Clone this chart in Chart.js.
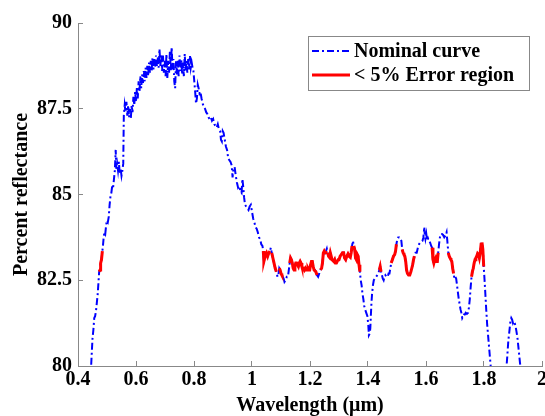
<!DOCTYPE html>
<html>
<head>
<meta charset="utf-8">
<script src="https://cdn.jsdelivr.net/npm/chart.js@4.4.1/dist/chart.umd.min.js"></script>
<style>
    body { margin: 0; background: #fff; }
    #wrap { width: 545px; height: 416px; position: relative; }
</style>
</head>
<body>
<div id="wrap"><canvas id="chart-reflectance"></canvas></div>
<script>
const wavelength = [
    0.443, 0.447, 0.450, 0.453, 0.456, 0.459, 0.462, 0.465, 0.468, 0.471, 0.473, 0.476, 0.478, 0.481, 0.484, 0.486, 0.488, 0.491, 0.494, 0.497,
    0.500, 0.503, 0.506, 0.509, 0.512, 0.515, 0.518, 0.521, 0.524, 0.527, 0.530, 0.532, 0.535, 0.538, 0.541, 0.544, 0.547, 0.550, 0.553, 0.556,
    0.558, 0.561, 0.564, 0.567, 0.570, 0.573, 0.576, 0.579, 0.582, 0.585, 0.588, 0.591, 0.594, 0.597, 0.600, 0.603, 0.606, 0.609, 0.612, 0.615,
    0.618, 0.621, 0.624, 0.627, 0.630, 0.633, 0.636, 0.639, 0.642, 0.645, 0.648, 0.651, 0.654, 0.657, 0.660, 0.663, 0.666, 0.669, 0.672, 0.675,
    0.678, 0.681, 0.684, 0.687, 0.690, 0.693, 0.696, 0.699, 0.702, 0.705, 0.708, 0.711, 0.714, 0.717, 0.720, 0.723, 0.726, 0.729, 0.732, 0.735,
    0.738, 0.741, 0.744, 0.747, 0.750, 0.753, 0.756, 0.759, 0.762, 0.765, 0.768, 0.771, 0.774, 0.777, 0.780, 0.783, 0.786, 0.789, 0.792, 0.795,
    0.798, 0.801, 0.804, 0.807, 0.810, 0.813, 0.816, 0.819, 0.822, 0.826, 0.830, 0.834, 0.838, 0.842, 0.846, 0.850, 0.854, 0.858, 0.862, 0.866,
    0.870, 0.874, 0.878, 0.882, 0.886, 0.890, 0.893, 0.896, 0.899, 0.902, 0.906, 0.910, 0.914, 0.918, 0.922, 0.926, 0.930, 0.933, 0.936, 0.940,
    0.944, 0.948, 0.952, 0.956, 0.960, 0.964, 0.967, 0.970, 0.973, 0.976, 0.980, 0.984, 0.988, 0.992, 0.996, 1.000, 1.004, 1.008, 1.012, 1.016,
    1.020, 1.024, 1.028, 1.032, 1.036, 1.039, 1.041, 1.044, 1.047, 1.050, 1.054, 1.058, 1.062, 1.065, 1.068, 1.072, 1.076, 1.080, 1.084, 1.088,
    1.091, 1.094, 1.097, 1.100, 1.103, 1.106, 1.109, 1.112, 1.116, 1.120, 1.124, 1.127, 1.130, 1.133, 1.136, 1.139, 1.142, 1.145, 1.148, 1.151,
    1.154, 1.157, 1.160, 1.163, 1.166, 1.169, 1.172, 1.175, 1.178, 1.181, 1.184, 1.187, 1.190, 1.193, 1.196, 1.199, 1.202, 1.205, 1.208, 1.211,
    1.214, 1.217, 1.220, 1.224, 1.228, 1.232, 1.236, 1.240, 1.243, 1.246, 1.249, 1.252, 1.255, 1.258, 1.261, 1.264, 1.267, 1.270, 1.273, 1.276,
    1.279, 1.282, 1.285, 1.288, 1.291, 1.294, 1.297, 1.300, 1.304, 1.308, 1.312, 1.316, 1.319, 1.323, 1.327, 1.331, 1.335, 1.339, 1.342, 1.345,
    1.348, 1.351, 1.354, 1.357, 1.360, 1.363, 1.366, 1.369, 1.372, 1.375, 1.378, 1.381, 1.384, 1.387, 1.390, 1.394, 1.398, 1.401, 1.403, 1.406,
    1.408, 1.410, 1.412, 1.414, 1.417, 1.420, 1.424, 1.428, 1.432, 1.436, 1.439, 1.442, 1.445, 1.448, 1.451, 1.454, 1.457, 1.460, 1.464, 1.468,
    1.471, 1.474, 1.477, 1.480, 1.484, 1.488, 1.492, 1.495, 1.498, 1.501, 1.504, 1.508, 1.512, 1.515, 1.518, 1.521, 1.524, 1.527, 1.530, 1.533,
    1.536, 1.540, 1.544, 1.548, 1.551, 1.554, 1.557, 1.560, 1.564, 1.568, 1.572, 1.576, 1.580, 1.584, 1.588, 1.591, 1.594, 1.596, 1.598, 1.601,
    1.604, 1.607, 1.610, 1.614, 1.618, 1.621, 1.624, 1.627, 1.630, 1.633, 1.636, 1.639, 1.642, 1.645, 1.648, 1.651, 1.655, 1.659, 1.663, 1.667,
    1.671, 1.674, 1.677, 1.680, 1.683, 1.686, 1.689, 1.692, 1.695, 1.698, 1.701, 1.704, 1.707, 1.710, 1.713, 1.716, 1.719, 1.722, 1.725, 1.728,
    1.731, 1.734, 1.737, 1.741, 1.745, 1.748, 1.751, 1.754, 1.757, 1.760, 1.763, 1.766, 1.769, 1.772, 1.775, 1.778, 1.781, 1.784, 1.787, 1.790,
    1.793, 1.796, 1.799, 1.802, 1.805, 1.808, 1.811, 1.814, 1.817, 1.820, 1.823, 1.830, 1.845, 1.865, 1.876, 1.880, 1.884, 1.888, 1.891, 1.894,
    1.897, 1.900, 1.903, 1.906, 1.909, 1.912, 1.915, 1.918, 1.921, 1.924, 1.927, 1.932
];
const reflectance = [
    79.6, 80.3, 80.8, 81.05, 81.4, 81.45, 81.6, 81.85, 82.1, 82.5, 82.75, 82.8, 83.0, 83.1, 83.35, 83.5, 83.7, 83.9, 83.85, 84.1,
    84.25, 84.2, 84.35, 84.7, 84.95, 85.05, 85.25, 85.2, 85.45, 85.7, 86.3, 85.75, 85.9, 85.7, 85.95, 85.6, 85.75, 85.55, 85.7, 85.9,
    87.3, 87.6, 87.4, 87.7, 87.3, 87.6, 87.25, 87.5, 87.2, 87.6, 87.4, 87.85, 87.6, 88.0, 87.7, 88.1, 87.8, 88.3, 88.0, 88.45,
    88.1, 88.5, 88.25, 88.6, 88.3, 88.7, 88.4, 88.75, 88.45, 88.85, 88.55, 88.9, 88.6, 89.0, 88.65, 88.95, 88.7, 89.05, 88.75, 89.0,
    88.7, 89.25, 88.75, 89.1, 88.6, 89.05, 88.55, 88.9, 88.45, 89.1, 88.4, 88.9, 88.55, 89.2, 88.6, 89.3, 88.65, 88.95, 88.3, 88.1,
    88.9, 88.5, 88.9, 88.45, 89.05, 88.6, 88.95, 88.5, 88.85, 88.45, 89.1, 88.6, 88.9, 88.55, 88.95, 88.65, 89.05, 88.7, 88.85, 88.7,
    88.6, 88.3, 88.0, 87.65, 87.8, 88.2, 88.1, 87.95, 88.0, 87.8, 87.65, 87.55, 87.5, 87.4, 87.35, 87.25, 87.2, 87.25, 87.15, 87.2,
    87.05, 87.0, 86.95, 87.05, 86.9, 86.85, 86.6, 86.55, 86.85, 86.8, 86.6, 86.4, 86.3, 86.05, 86.0, 85.95, 85.85, 85.5, 85.75, 85.8,
    85.55, 85.35, 85.2, 85.25, 85.1, 85.05, 85.45, 85.2, 84.9, 84.7, 84.65, 84.6, 84.55, 84.65, 84.7, 84.5, 84.3, 84.2, 84.05, 84.0,
    83.9, 83.75, 83.7, 83.55, 83.5, 83.35, 83.05, 83.15, 83.25, 83.3, 83.2, 83.3, 83.35, 83.45, 83.3, 83.15, 83.0, 82.85, 82.75, 82.6,
    82.65, 82.85, 82.8, 82.7, 82.65, 82.6, 82.55, 82.45, 82.5, 82.6, 82.6, 82.8, 83.0, 83.15, 83.1, 83.0, 82.85, 82.8, 82.9, 83.0,
    83.0, 82.95, 82.9, 83.0, 83.05, 83.0, 82.9, 82.85, 82.85, 82.8, 82.85, 82.8, 82.8, 82.85, 82.8, 82.8, 82.95, 83.05, 83.05, 82.9,
    82.8, 82.8, 82.75, 82.65, 82.6, 82.7, 82.8, 82.85, 83.0, 83.3, 83.35, 83.3, 83.35, 83.42, 83.3, 83.2, 83.17, 83.3, 83.2, 83.1,
    83.1, 83.05, 83.1, 83.0, 83.0, 83.05, 83.1, 83.1, 83.2, 83.25, 83.3, 83.3, 83.15, 83.1, 83.2, 83.27, 83.2, 83.17, 83.3, 83.5,
    83.65, 83.5, 83.4, 83.15, 83.1, 83.25, 83.2, 82.95, 82.75, 82.5, 82.35, 82.1, 81.95, 81.75, 81.65, 81.55, 81.45, 81.2, 80.9, 80.95,
    81.1, 81.5, 81.85, 82.1, 82.35, 82.5, 82.55, 82.6, 82.65, 82.7, 82.8, 82.9, 82.75, 82.65, 82.55, 82.5, 82.6, 82.65, 82.6, 82.6,
    82.7, 82.7, 82.85, 83.0, 83.1, 83.2, 83.25, 83.35, 83.55, 83.7, 83.75, 83.75, 83.72, 83.65, 83.4, 83.3, 83.25, 83.2, 83.05, 82.8,
    82.7, 82.65, 82.65, 82.75, 82.85, 82.95, 83.1, 83.2, 83.3, 83.3, 83.45, 83.55, 83.6, 83.62, 83.65, 83.75, 84.05, 83.8, 83.7, 83.85,
    83.65, 83.72, 83.65, 83.6, 83.5, 83.45, 83.1, 83.0, 83.1, 83.15, 83.05, 83.05, 83.3, 83.55, 83.75, 83.85, 83.85, 83.82, 83.75, 83.8,
    83.9, 83.6, 83.3, 83.2, 83.15, 83.1, 83.05, 82.85, 82.7, 82.55, 82.6, 82.55, 82.35, 82.15, 81.95, 81.8, 81.65, 81.55, 81.4, 81.45,
    81.5, 81.5, 81.55, 81.52, 81.55, 81.7, 81.95, 82.3, 82.6, 82.75, 82.85, 83.0, 83.1, 83.15, 83.2, 83.28, 83.25, 83.15, 83.3, 83.55,
    83.6, 83.4, 82.9, 82.5, 82.05, 81.6, 81.2, 80.9, 80.6, 80.3, 80.0, 79.5, 79.0, 79.3, 79.8, 80.25, 80.75, 81.05, 81.3, 81.4,
    81.35, 81.25, 81.3, 81.25, 81.15, 81.0, 80.85, 80.6, 80.35, 80.1, 79.9, 79.5
];
// wavelength spans (um) drawn as the < 5% error region
const errorRanges = [
    [0.473, 0.484], [1.039, 1.062], [1.066, 1.087], [1.093, 1.108], [1.128, 1.225], [1.233, 1.256], [1.261, 1.346],
    [1.351, 1.372], [1.437, 1.445], [1.480, 1.498], [1.518, 1.560], [1.621, 1.642], [1.677, 1.695], [1.757, 1.800]
];
const seriesLabels = ['Nominal curve', '< 5% Error region'];
const xTicks = { min: 0.4, max: 2, step: 0.2 };
const yTicks = { min: 80, max: 90, step: 2.5 };

const serif = '"Liberation Serif", "Times New Roman", serif';
const axisGray = '#888888';

function inErrorRegion(w) {
    return errorRanges.some(r => w >= r[0] - 1e-9 && w <= r[1] + 1e-9);
}

// plain number labels like MATLAB: 1, 1.2, 2, 82.5
function tickLabel(value) {
    return String(Number(value.toFixed(2)));
}

const boxLegend = {
    id: 'boxLegend',
    afterDraw(chart) {
        const ctx = chart.ctx;
        const area = chart.chartArea;
        const w = 221, h = 54;
        const x = area.right - 13 - w, y = area.top + 13;
        ctx.save();
        ctx.fillStyle = '#fff';
        ctx.fillRect(x, y, w, h);
        ctx.strokeStyle = axisGray;
        ctx.lineWidth = 1;
        ctx.strokeRect(x + 0.5, y + 0.5, w, h);
        ctx.font = 'bold 20px ' + serif;
        ctx.textBaseline = 'middle';
        chart.data.datasets.forEach(function (ds, i) {
            const ly = y + 15 + i * 24;
            ctx.strokeStyle = ds.borderColor;
            ctx.lineWidth = ds.borderWidth;
            ctx.setLineDash(ds.borderDash || []);
            ctx.beginPath();
            ctx.moveTo(x + 4, ly);
            ctx.lineTo(x + 42, ly);
            ctx.stroke();
            ctx.setLineDash([]);
            ctx.fillStyle = '#000';
            ctx.fillText(ds.label, x + 46, ly + 1);
        });
        ctx.restore();
    }
};

function drawReflectance(id) {
    const nominal = wavelength.map((w, i) => ({ x: w, y: reflectance[i] }));
    const errorPart = wavelength.map((w, i) => ({ x: w, y: inErrorRegion(w) ? reflectance[i] : null }));
    const tickFont = { family: serif, size: 20, weight: 'bold' };
    return new Chart(document.getElementById(id), {
        type: 'line',
        data: {
            datasets: [{
                label: seriesLabels[0],
                data: nominal,
                borderColor: '#0000ff',
                borderWidth: 2,
                borderDash: [7, 3, 2, 3],
                pointRadius: 0,
                order: 1
            }, {
                label: seriesLabels[1],
                data: errorPart,
                borderColor: '#ff0000',
                borderWidth: 3,
                pointRadius: 0,
                spanGaps: false,
                order: 0
            }]
        },
        options: {
            responsive: true,
            maintainAspectRatio: false,
            animation: false,
            layout: { padding: { top: 21, right: 3, bottom: 0, left: 0 } },
            plugins: {
                legend: { display: false },
                tooltip: { enabled: false }
            },
            scales: {
                x: {
                    type: 'linear',
                    min: xTicks.min,
                    max: xTicks.max,
                    ticks: { stepSize: xTicks.step, font: tickFont, color: '#000', padding: 7, maxRotation: 0, callback: tickLabel },
                    grid: { drawOnChartArea: false, tickLength: -5, color: axisGray },
                    border: { color: axisGray },
                    title: {
                        display: true,
                        text: 'Wavelength (μm)',
                        font: { family: serif, size: 20, weight: 'bold', lineHeight: 1 },
                        color: '#000',
                        padding: { top: 0, bottom: 0 }
                    },
                    afterFit: function (s) { s.height = 50; s.paddingLeft = 0; s.paddingRight = 0; }
                },
                y: {
                    min: yTicks.min,
                    max: yTicks.max,
                    ticks: { stepSize: yTicks.step, font: tickFont, color: '#000', padding: 11, callback: tickLabel },
                    grid: { drawOnChartArea: false, tickLength: -5, color: axisGray },
                    border: { color: axisGray },
                    title: {
                        display: true,
                        text: 'Percent reflectance',
                        font: { family: serif, size: 20, weight: 'bold', lineHeight: 1 },
                        color: '#000',
                        padding: { top: 12, bottom: 0 }
                    },
                    afterFit: function (s) { s.width = 78; }
                }
            }
        },
        plugins: [boxLegend]
    });
}

drawReflectance('chart-reflectance');
</script>
</body>
</html>
